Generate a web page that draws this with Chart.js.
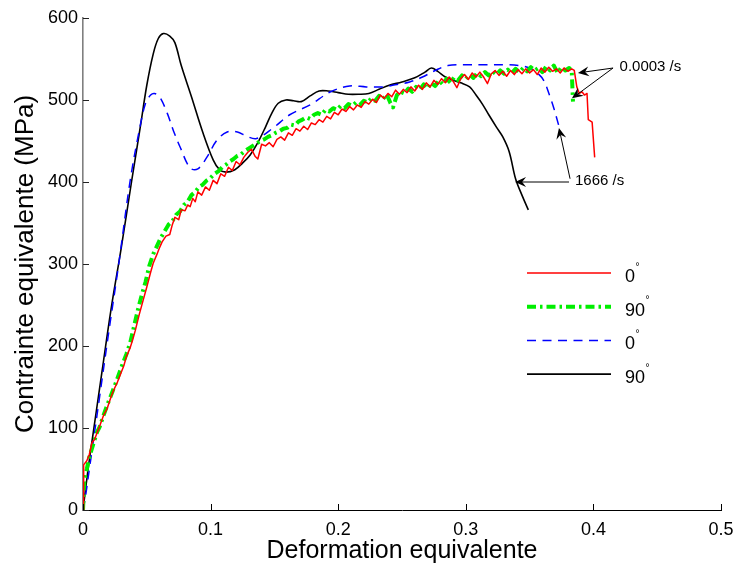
<!DOCTYPE html>
<html><head><meta charset="utf-8">
<script src="https://cdn.jsdelivr.net/npm/chart.js@4.4.1/dist/chart.umd.min.js"></script>
<style>html,body{margin:0;padding:0;background:#fff}#wrap{width:733px;height:565px;position:relative}</style>
</head><body><div id="wrap"><canvas id="c"></canvas></div>
<script>
// ---- data ----
const xTickValues = [0, 0.1, 0.2, 0.3, 0.4, 0.5];
const xTickLabels = ['0', '0.1', '0.2', '0.3', '0.4', '0.5'];
const yTickValues = [0, 100, 200, 300, 400, 500, 600];
const yTickLabels = ['0', '100', '200', '300', '400', '500', '600'];

const seriesLabels = ['0', '90', '0', '90'];

// 0°, 0.0003 /s (red)
const redX = [0,0.0005,0.003,0.005,0.007,0.009,0.011,0.013,0.016,0.019,0.022,0.024,0.027,0.030,0.032,0.034,0.037,0.039,0.041,0.044,0.047,0.050,0.053,0.055,0.058,0.060,0.062,0.065,0.068,0.070,0.072,0.075,0.077,0.080,0.082,0.084,0.086,0.088,
0.090,0.093,0.096,0.099,0.102,0.105,0.108,0.111,0.114,0.117,0.120,0.123,0.126,0.129,0.132,0.135,0.137,0.140,0.143,0.146,0.149,0.152,0.155,0.158,0.161,0.164,0.167,0.170,0.173,0.176,0.179,0.182,0.185,0.188,0.191,0.194,0.197,0.200,
0.203,0.206,0.209,0.212,0.215,0.218,0.221,0.224,0.227,0.230,0.233,0.236,0.239,0.242,0.245,0.248,0.251,0.254,0.257,0.260,0.263,0.266,0.269,0.272,0.275,0.278,0.281,0.284,0.287,0.290,0.293,0.296,0.299,0.302,0.305,0.308,0.311,0.314,
0.317,0.320,0.323,0.326,0.329,0.332,0.335,0.338,0.341,0.344,0.347,0.350,0.353,0.356,0.359,0.362,0.365,0.368,0.371,0.374,0.377,0.380,0.383,0.385,0.387,0.389,0.391,0.393,0.395,0.396,0.399,0.401];
const redY = [0,55,60,68,82,86,94,102,115,124,138,146,156,168,176,187,198,208,219,238,255,272,290,301,312,320,327,334,336,348,357,354,366,365,372,370,380,376,
388,384,394,390,402,398,410,407,418,414,425,421,430,436,440,431,428,446,444,448,443,452,455,451,460,457,465,462,468,464,472,470,476,473,480,477,485,482,
489,486,492,488,494,491,498,495,501,497,506,502,508,504,512,507,513,509,516,511,518,513,521,516,524,519,526,521,528,523,515,526,531,525,533,528,534,528,
520,532,536,530,535,529,536,531,537,532,538,533,537,531,539,534,540,535,538,533,539,535,538,536,516,508,510,506,508,476,473,430];

// 90°, 0.0003 /s (green)
const greenX = [0,0.001,0.003,0.005,0.008,0.011,0.013,0.016,0.019,0.022,0.025,0.028,0.031,0.034,0.037,0.040,0.043,0.046,0.049,0.052,0.055,0.058,0.061,0.064,0.067,0.070,0.073,0.076,0.079,0.082,0.085,0.088,0.091,0.094,0.097,0.100,
0.103,0.106,0.109,0.112,0.115,0.118,0.121,0.124,0.127,0.130,0.133,0.136,0.139,0.142,0.145,0.148,0.151,0.154,0.157,0.160,0.163,0.166,0.169,0.172,0.175,0.178,0.181,0.184,0.187,0.190,0.193,0.196,0.199,0.202,0.205,0.208,0.211,0.214,
0.217,0.220,0.223,0.226,0.229,0.232,0.235,0.238,0.241,0.243,0.246,0.249,0.252,0.255,0.258,0.261,0.264,0.267,0.270,0.273,0.276,0.279,0.282,0.285,0.288,0.291,0.294,0.297,0.300,0.303,0.306,0.309,0.312,0.315,0.318,0.321,0.324,0.327,
0.330,0.333,0.336,0.339,0.342,0.345,0.348,0.351,0.354,0.357,0.360,0.363,0.366,0.369,0.372,0.375,0.378,0.381,0.383,0.384];
const greenY = [0,37,50,65,80,95,101,115,128,140,152,165,178,190,204,224,244,262,278,298,312,322,332,340,348,352,360,364,372,376,384,388,394,397,402,405,
410,413,418,421,425,428,432,434,438,441,444,447,450,452,455,457,460,462,465,466,470,469,474,476,479,477,482,484,482,488,486,490,488,493,490,495,493,497,
494,499,497,502,499,505,501,507,496,491,506,510,508,514,510,516,513,519,514,521,517,524,519,526,521,528,524,530,526,531,527,533,529,534,530,535,531,536,
532,537,533,538,534,539,535,540,536,539,534,541,536,542,533,540,536,539,536,498];

// 0°, 1666 /s (blue dashed)
const blueX = [0,0.0015,0.005,0.013,0.020,0.028,0.037,0.044,0.049,0.053,0.056,0.060,0.066,0.071,0.076,0.084,0.090,0.097,0.105,0.113,0.121,0.128,0.136,0.149,0.162,0.178,0.194,0.209,0.222,0.235,0.246,0.256,0.266,0.276,0.286,0.300,0.315,0.330,0.342,0.350,0.356,0.361,0.366,0.369,0.373];
const blueY = [0,12,50,138,215,300,402,462,496,506,508,504,484,462,443,417,416,430,451,461,461,456,453,466,482,494,510,517,516,516,519,522,528,536,542,543,543,543,542,539,533,524,504,490,468];

// 90°, 1666 /s (black)
const blackX = [0,0.004,0.008,0.015,0.022,0.030,0.038,0.045,0.050,0.055,0.059,0.063,0.068,0.072,0.077,0.085,0.094,0.102,0.107,0.112,0.119,0.125,0.131,0.137,0.143,0.148,0.153,0.159,0.165,0.171,0.178,0.185,0.192,0.200,0.208,0.216,0.224,0.232,0.240,0.250,0.260,0.268,0.273,0.278,0.284,0.290,0.296,0.303,0.308,0.313,0.318,0.324,0.329,0.334,0.339,0.344,0.349];
const blackY = [0,50,94,170,245,320,400,468,518,556,575,581,578,570,542,504,460,427,415,412,415,423,433,448,467,484,496,500,499,498,505,511,511,509,507,507,508,513,518,522,527,534,539,535,528,524,521,516,506,495,482,467,455,437,404,384,366];

// annotations (data coordinates)
const annotationTexts = ['0.0003 /s', '1666 /s'];
const annotationTextPos = [[0.4205, 540], [0.3856, 401]];
const arrowLines = [
  [[0.4154, 539], [0.3879, 533]],
  [[0.4154, 539], [0.3832, 502]],
  [[0.3817, 404], [0.3730, 466]],
  [[0.3809, 400], [0.3386, 400]]
];

// ---- chart ----
const pts = (xs, ys) => xs.map((x, i) => ({x: x, y: ys[i]}));
const FONT = '"Liberation Sans", Arial, Helvetica, sans-serif';

const datasets = [
  {label: seriesLabels[0], data: pts(redX, redY), borderColor: '#ff0000', borderWidth: 1.5, tension: 0, borderDash: []},
  {label: seriesLabels[1], data: pts(greenX, greenY), borderColor: '#00ee00', borderWidth: 4, tension: 0, borderDash: [9, 4, 2.5, 4]},
  {label: seriesLabels[2], data: pts(blueX, blueY), borderColor: '#0000ff', borderWidth: 1.5, tension: 0.35, borderDash: [9, 6.5]},
  {label: seriesLabels[3], data: pts(blackX, blackY), borderColor: '#000000', borderWidth: 1.6, tension: 0.35, borderDash: []}
];
datasets.forEach(d => { d.pointRadius = 0; d.fill = false; d.borderCapStyle = 'butt'; d.borderJoinStyle = 'round'; });

const decor = {
  id: 'decor',
  afterDraw(chart) {
    const {ctx, chartArea: a, scales: {x, y}} = chart;
    ctx.save();
    // inward tick marks
    ctx.lineWidth = 1;
    ctx.strokeStyle = '#000';
    xTickValues.forEach(v => {
      const px = Math.round(x.getPixelForValue(v)) + 0.5;
      ctx.beginPath(); ctx.moveTo(px, a.bottom); ctx.lineTo(px, a.bottom - 6); ctx.stroke();
    });
    ctx.strokeStyle = '#222';
    yTickValues.forEach(v => {
      const py = Math.round(y.getPixelForValue(v)) + 0.5;
      ctx.beginPath(); ctx.moveTo(a.left, py); ctx.lineTo(a.left + 6, py); ctx.stroke();
    });

    // legend
    const lx0 = a.left + 444, lx1 = a.left + 528, ty0 = 273, dy = 33.7;
    chart.data.datasets.forEach((d, i) => {
      const yy = ty0 + i * dy;
      ctx.beginPath();
      ctx.setLineDash(d.borderDash || []);
      ctx.lineWidth = d.borderWidth;
      ctx.strokeStyle = d.borderColor;
      ctx.lineCap = 'butt';
      ctx.moveTo(lx0, yy); ctx.lineTo(lx1, yy); ctx.stroke();
      ctx.setLineDash([]);
      ctx.fillStyle = '#000';
      ctx.font = '18px ' + FONT;
      ctx.textBaseline = 'middle';
      ctx.textAlign = 'left';
      const tx = lx1 + 14;
      ctx.fillText(d.label, tx, yy + 4);
      const w = ctx.measureText(d.label).width;
      ctx.font = '10px ' + FONT;
      ctx.fillText('\u00B0', tx + w + 0.5, yy - 6);
    });

    // annotations
    ctx.strokeStyle = '#000';
    ctx.fillStyle = '#000';
    ctx.lineWidth = 1;
    arrowLines.forEach(([p0, p1]) => {
      const x0 = x.getPixelForValue(p0[0]), y0 = y.getPixelForValue(p0[1]);
      const x1 = x.getPixelForValue(p1[0]), y1 = y.getPixelForValue(p1[1]);
      const ang = Math.atan2(y1 - y0, x1 - x0);
      const L = 11, W = 5;
      const bx = x1 - L * Math.cos(ang), by = y1 - L * Math.sin(ang);
      const nx = x1 - 0.65 * L * Math.cos(ang), ny = y1 - 0.65 * L * Math.sin(ang);
      ctx.beginPath(); ctx.moveTo(x0, y0); ctx.lineTo(nx, ny); ctx.stroke();
      ctx.beginPath();
      ctx.moveTo(x1, y1);
      ctx.lineTo(bx - W * Math.sin(ang), by + W * Math.cos(ang));
      ctx.lineTo(nx, ny);
      ctx.lineTo(bx + W * Math.sin(ang), by - W * Math.cos(ang));
      ctx.closePath(); ctx.fill();
    });
    ctx.font = '15px ' + FONT;
    ctx.textAlign = 'left';
    ctx.textBaseline = 'middle';
    annotationTexts.forEach((t, i) => {
      const p = annotationTextPos[i];
      ctx.fillText(t, x.getPixelForValue(p[0]), y.getPixelForValue(p[1]));
    });
    ctx.restore();
  }
};

new Chart(document.getElementById('c'), {
  type: 'line',
  data: {datasets: datasets},
  options: {
    responsive: true,
    maintainAspectRatio: false,
    animation: false,
    events: [],
    layout: {padding: {left: 0, right: 12, top: 18, bottom: 0}},
    plugins: {legend: {display: false}, tooltip: {enabled: false}},
    scales: {
      x: {
        type: 'linear', min: 0, max: 0.5,
        afterBuildTicks: s => { s.ticks = xTickValues.map(v => ({value: v})); },
        afterFit: s => { s.height = 55; s.paddingLeft = 0; s.paddingRight = 0; },
        ticks: {autoSkip: false, maxRotation: 0, padding: 9, color: '#000',
          font: {family: FONT, size: 18},
          callback: (v, i) => xTickLabels[i]},
        grid: {display: false, drawTicks: false},
        border: {display: true, color: '#000', width: 1},
        title: {display: true, text: 'Deformation equivalente', color: '#000',
          font: {family: FONT, size: 25, lineHeight: 1}, padding: {top: 0, bottom: 1}}
      },
      y: {
        type: 'linear', min: 0, max: 600,
        afterBuildTicks: s => { s.ticks = yTickValues.map(v => ({value: v})); },
        afterFit: s => { s.width = 83; s.paddingTop = 0; s.paddingBottom = 0; },
        ticks: {autoSkip: false, padding: 5, color: '#000',
          font: {family: FONT, size: 18},
          callback: (v, i) => yTickLabels[i]},
        grid: {display: false, drawTicks: false},
        border: {display: true, color: '#7f7f7f', width: 1.6},
        title: {display: true, text: 'Contrainte equivalente (MPa)', color: '#000',
          font: {family: FONT, size: 26, lineHeight: 1}, padding: {top: 13, bottom: 0}}
      }
    }
  },
  plugins: [decor]
});
</script>
</body></html>
